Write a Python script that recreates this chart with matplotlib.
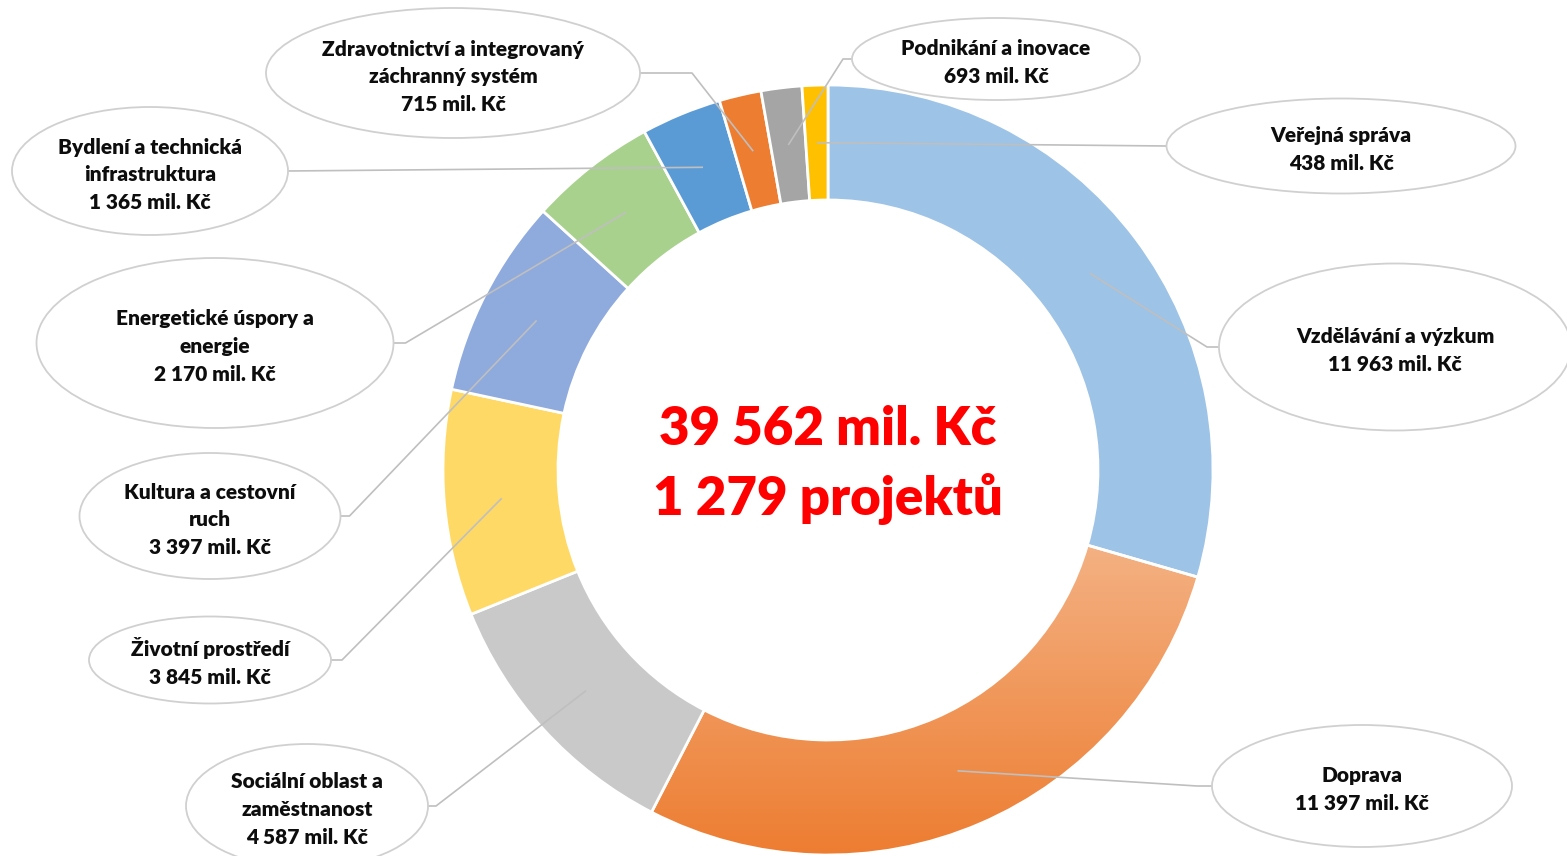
import numpy as np
import matplotlib
matplotlib.use("Agg")
import matplotlib.pyplot as plt
from matplotlib.patches import Wedge, Ellipse
from matplotlib.colors import to_rgb

# ---------------- data ----------------
categories = [
    "Vzdělávání a výzkum",
    "Doprava",
    "Sociální oblast a\nzaměstnanost",
    "Životní prostředí",
    "Kultura a cestovní\nruch",
    "Energetické úspory a\nenergie",
    "Bydlení a technická\ninfrastruktura",
    "Zdravotnictví a integrovaný\nzáchranný systém",
    "Podnikání a inovace",
    "Veřejná správa",
]
values = [11963, 11397, 4587, 3845, 3397, 2170, 1365, 715, 693, 438]
value_labels = ["11 963", "11 397", "4 587", "3 845", "3 397",
                "2 170", "1 365", "715", "693", "438"]
colors = ["#9DC3E6", None, "#C9C9C9", "#FFD966", "#8FAADC",
          "#A9D18E", "#5B9BD5", "#ED7D31", "#A5A5A5", "#FFC000"]
total_text = "39 562 mil. Kč"
projects_text = "1 279 projektů"

# ---------------- layout (pixels) ----------------
CX, CY = 828, 470
R_OUT, R_IN = 385, 270
# label ellipse: centre x, centre y, width, height, leader stub length
label_boxes = [
    (1395, 347, 352, 167, 12),
    (1362, 786, 300, 122, 15),
    (307, 806, 242, 124, 8),
    (210, 660, 242, 87, 11),
    (210, 516, 261, 126, 9),
    (215, 343, 357, 170, 12),
    (150, 171, 276, 128, 0),
    (453, 73, 374, 130, 52),
    (996, 59, 288, 82, 9),
    (1341, 146, 349, 95, 0),
]

FONT = ["Lato", "DejaVu Sans"]
EDGE_GRAY = "#D0D0D0"
LINE_GRAY = "#BFBFBF"

fig = plt.figure(figsize=(15.67, 8.56), dpi=100)
ax = fig.add_axes([0, 0, 1, 1])

total = sum(values)
angles = np.cumsum([0] + values) / total * 360.0
ring_mid = (R_OUT + R_IN) / 2

for i, v in enumerate(values):
    a0, a1 = angles[i], angles[i + 1]
    w = Wedge((CX, CY), R_OUT, -90 + a0, -90 + a1, width=R_OUT - R_IN,
              facecolor=colors[i] if colors[i] else "none",
              edgecolor="white", linewidth=2.0, zorder=2)
    ax.add_patch(w)
    if colors[i] is None:
        # vertical orange gradient for Doprava
        ys = np.linspace(CY - R_OUT, CY + R_OUT, 400)
        t = np.clip((ys - 545) / (855 - 545), 0, 1)[:, None]
        c_top = np.array(to_rgb("#F4B183"))
        c_bot = np.array(to_rgb("#ED7D31"))
        grad = (c_top * (1 - t) + c_bot * t)[:, None, :]
        grad = np.repeat(grad, 2, axis=1)
        img = ax.imshow(grad, extent=(CX - R_OUT, CX + R_OUT, CY + R_OUT, CY - R_OUT),
                        origin="upper", aspect="auto", zorder=1.5,
                        interpolation="bilinear")
        img.set_clip_path(w)

# centre text
ax.text(CX, CY - 25, total_text, ha="center", va="baseline",
        fontsize=38, fontweight="heavy", color="#FF0000", family=FONT, zorder=5)
ax.text(CX, CY + 45, projects_text, ha="center", va="baseline",
        fontsize=38, fontweight="heavy", color="#FF0000", family=FONT, zorder=5)

# labels and leaders
for i, (bx, by, bw, bh, stub) in enumerate(label_boxes):
    mid = np.radians(-90 + (angles[i] + angles[i + 1]) / 2)
    ax_x = CX + ring_mid * np.cos(mid)
    ax_y = CY + ring_mid * np.sin(mid)
    side = -1 if bx > CX else 1
    sx = bx + side * bw / 2
    ax.plot([sx, sx + side * stub, ax_x], [by, by, ax_y],
            color=LINE_GRAY, linewidth=1.2, zorder=3, solid_capstyle="butt")
    ax.add_patch(Ellipse((bx, by), bw, bh, facecolor="white",
                         edgecolor=EDGE_GRAY, linewidth=1.3, zorder=4))
    lines = categories[i].split("\n") + [value_labels[i] + " mil. Kč"]
    n = len(lines)
    for k, line in enumerate(lines):
        yc = by + 3 + (k - (n - 1) / 2) * 27.5
        ax.text(bx, yc + 7, line, ha="center", va="baseline", fontsize=15,
                fontweight="heavy", color="#0D0D0D", family=FONT, zorder=5)

ax.set_xlim(0, 1567)
ax.set_ylim(856, 0)
ax.axis("off")

fig.savefig("out.png", dpi=100, facecolor="white")
